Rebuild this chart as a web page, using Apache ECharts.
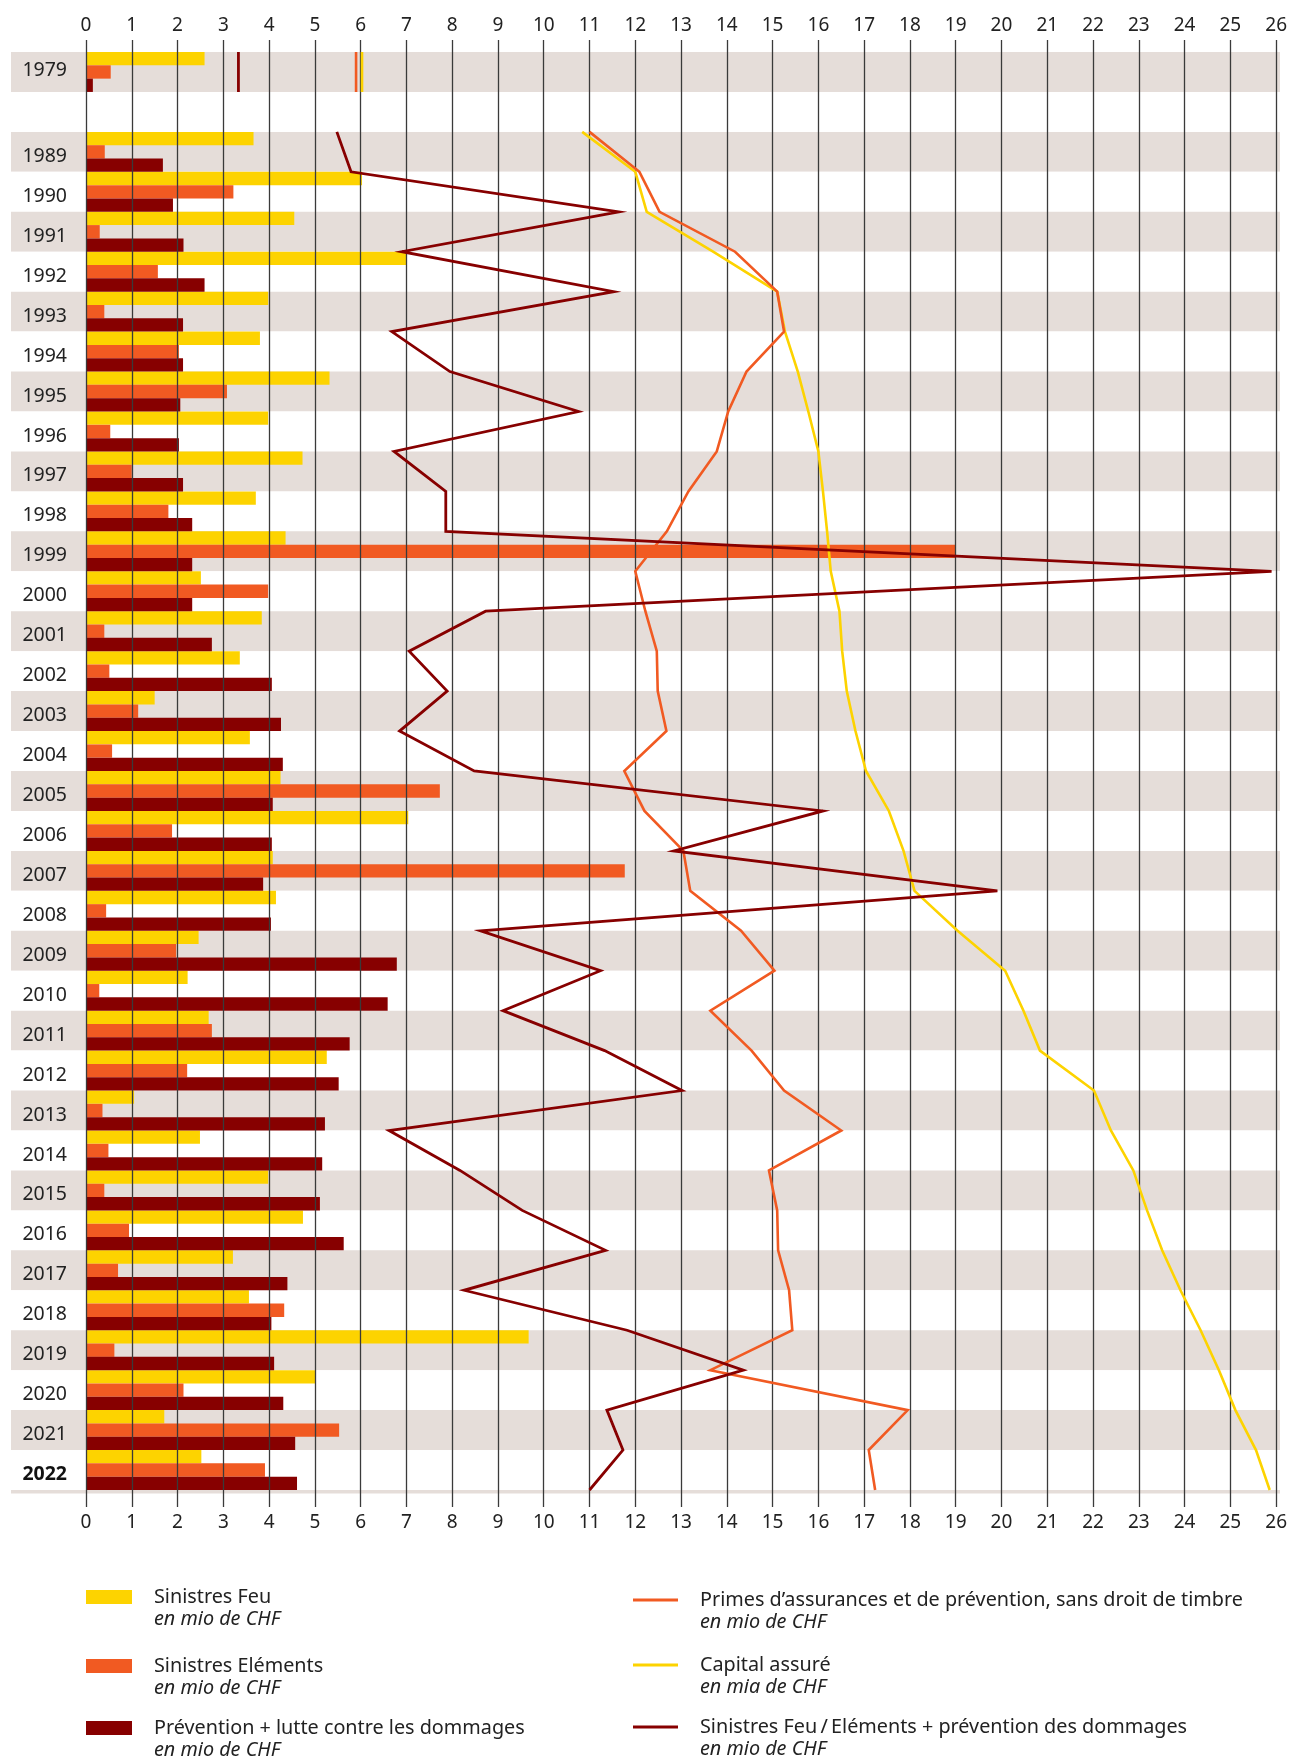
<!DOCTYPE html>
<html>
<head>
<meta charset="utf-8">
<script src="https://cdn.jsdelivr.net/npm/echarts@6/dist/echarts.min.js"></script>
<style>
html,body{margin:0;padding:0;background:#ffffff;}
#chart{width:1290px;height:1758px;}
</style>
</head>
<body>
<div id="chart"></div>
<script>
// ---------- DATA ----------
const categories = ['1979', '', '1989', '1990', '1991', '1992', '1993', '1994', '1995', '1996', '1997', '1998',
  '1999', '2000', '2001', '2002', '2003', '2004', '2005', '2006', '2007', '2008', '2009', '2010',
  '2011', '2012', '2013', '2014', '2015', '2016', '2017', '2018', '2019', '2020', '2021', '2022'];

// Bars (mio CHF), one value per category ('-' = empty row)
const sinistresFeu = [2.59, '-', 3.66, 6.03, 4.55, 7.00, 3.98, 3.80, 5.32, 3.98, 4.73, 3.71,
  4.36, 2.51, 3.84, 3.36, 1.50, 3.58, 4.25, 7.04, 4.08, 4.15, 2.46, 2.22,
  2.68, 5.26, 1.05, 2.49, 3.98, 4.74, 3.21, 3.56, 9.67, 5.02, 1.71, 2.52];
const sinistresElements = [0.54, '-', 0.41, 3.22, 0.30, 1.57, 0.40, 2.03, 3.08, 0.53, 1.00, 1.80,
  19.00, 3.98, 0.40, 0.51, 1.14, 0.57, 7.73, 1.88, 11.77, 0.44, 1.97, 0.29,
  2.75, 2.21, 0.36, 0.49, 0.40, 0.94, 0.70, 4.33, 0.62, 2.13, 5.53, 3.91];
const prevention = [0.15, '-', 1.68, 1.90, 2.13, 2.59, 2.12, 2.12, 2.06, 2.03, 2.12, 2.32,
  2.32, 2.32, 2.75, 4.06, 4.26, 4.30, 4.08, 4.06, 3.87, 4.04, 6.79, 6.59,
  5.76, 5.52, 5.22, 5.16, 5.11, 5.63, 4.40, 4.05, 4.11, 4.31, 4.57, 4.61];

// Lines: one value per year 1989-2022 (drawn at the lower edge of the year's row),
// plus a starting value at the upper edge of the 1989 row, and the 1979 value.
const lineYears = ['1989', '1990', '1991', '1992', '1993', '1994', '1995', '1996', '1997', '1998',
  '1999', '2000', '2001', '2002', '2003', '2004', '2005', '2006', '2007', '2008', '2009', '2010',
  '2011', '2012', '2013', '2014', '2015', '2016', '2017', '2018', '2019', '2020', '2021', '2022'];
const primesStart = 11.0;
const primes = [12.09, 12.53, 14.18, 15.10, 15.25, 14.43, 14.03, 13.78, 13.16, 12.69,
  12.00, 12.22, 12.47, 12.49, 12.68, 11.76, 12.20, 13.05, 13.20, 14.31, 15.04, 13.64,
  14.54, 15.25, 16.50, 14.92, 15.10, 15.12, 15.36, 15.43, 13.64, 17.95, 17.10, 17.24];
const capitalStart = 10.84;
const capital = [12.00, 12.25, 13.70, 15.10, 15.27, 15.55, 15.78, 16.00, 16.10, 16.19,
  16.27, 16.46, 16.52, 16.62, 16.81, 17.04, 17.54, 17.86, 18.10, 19.04, 20.08, 20.48,
  20.84, 22.02, 22.39, 22.88, 23.18, 23.51, 23.91, 24.35, 24.75, 25.11, 25.56, 25.86];
const totalStart = 5.48;
const totalSinistres = [5.79, 11.64, 6.90, 11.53, 6.68, 7.95, 10.76, 6.73, 7.86, 7.86,
  25.90, 8.73, 7.06, 7.89, 6.85, 8.48, 16.10, 12.84, 19.91, 8.62, 11.24, 9.11,
  11.33, 13.02, 6.62, 8.17, 9.53, 11.35, 8.26, 11.82, 14.36, 11.38, 11.73, 11.00];
const primes1979 = 5.90;
const capital1979 = 6.03;
const total1979 = 3.33;

const xTicks = {min: 0, max: 26, interval: 1};

// ---------- STYLE ----------
const FONT = '"Noto Sans", "DejaVu Sans", sans-serif';
const YELLOW = '#fdd300';
const ORANGE = '#f15a22';
const DARKRED = '#870000';
const SHADE = '#e5ddd9';
const GRIDC = '#3a3a3a';
const TEXTC = '#222222';
const LEGEND_FS = 19.8;

// ---------- helpers ----------
function rowIndex(y) { return categories.indexOf(y); }
function buildLine(startVal, vals) {
  const d = [[startVal, rowIndex(lineYears[0])]];
  lineYears.forEach(function (y, i) { d.push([vals[i], rowIndex(y) + 1]); });
  return d;
}
function build1979(v) {
  const k = rowIndex('1979');
  return [[v, k], [v, k + 1]];
}

const chart = echarts.init(document.getElementById('chart'), null, {renderer: 'canvas'});

const legendLeft = [
  {color: YELLOW, title: 'Sinistres Feu', unit: 'en mio de CHF', cy: 1597},
  {color: ORANGE, title: 'Sinistres Eléments', unit: 'en mio de CHF', cy: 1666},
  {color: DARKRED, title: 'Prévention + lutte contre les dommages', unit: 'en mio de CHF', cy: 1728}
];
const legendRight = [
  {color: ORANGE, title: 'Primes d’assurances et de prévention, sans droit de timbre', unit: 'en mio de CHF', cy: 1600},
  {color: YELLOW, title: 'Capital assuré', unit: 'en mia de CHF', cy: 1665},
  {color: DARKRED, title: 'Sinistres Feu\u2009/\u2009Eléments + prévention des dommages', unit: 'en mio de CHF', cy: 1727}
];
const graphicEls = [
  {type: 'rect', z: 1, shape: {x: 11, y: 1490, width: 1269, height: 3.5}, style: {fill: SHADE}}
];
function addText(x, y, text, italic) {
  graphicEls.push({
    type: 'text', x: x, y: y, z: 10,
    style: {
      text: text,
      font: (italic ? 'italic ' : '') + LEGEND_FS + 'px ' + FONT,
      fill: TEXTC,
      textVerticalAlign: 'middle', verticalAlign: 'middle',
      textAlign: 'left', align: 'left'
    }
  });
}
legendLeft.forEach(function (it) {
  graphicEls.push({type: 'rect', z: 10, shape: {x: 86, y: it.cy - 7, width: 46, height: 14}, style: {fill: it.color}});
  addText(154, it.cy, it.title, false);
  addText(154, it.cy + 22, it.unit, true);
});
legendRight.forEach(function (it) {
  graphicEls.push({type: 'line', z: 10, shape: {x1: 633, y1: it.cy, x2: 678, y2: it.cy}, style: {stroke: it.color, lineWidth: 3}});
  addText(700, it.cy, it.title, false);
  addText(700, it.cy + 22, it.unit, true);
});

const lineCommon = {
  type: 'line', xAxisIndex: 1, yAxisIndex: 2, symbol: 'none', showSymbol: false,
  silent: true, z: 4, animation: false
};

const option = {
  animation: false,
  backgroundColor: '#ffffff',
  textStyle: {fontFamily: FONT},
  grid: [
    {left: 11, top: 52, width: 1269, height: 1438, show: false},
    {left: 86, top: 52, width: 1194, height: 1438, show: false}
  ],
  xAxis: [
    {gridIndex: 0, type: 'value', min: 0, max: 1, show: false},
    {
      gridIndex: 1, type: 'value', position: 'top', min: xTicks.min, max: xTicks.max, interval: xTicks.interval, z: 3,
      axisLine: {show: false},
      axisTick: {show: true, inside: false, length: 12, lineStyle: {color: GRIDC, width: 1.3}},
      splitLine: {show: true, lineStyle: {color: GRIDC, width: 1.3}},
      axisLabel: {fontSize: 19, color: TEXTC, margin: 17, fontFamily: FONT}
    },
    {
      gridIndex: 1, type: 'value', position: 'bottom', min: xTicks.min, max: xTicks.max, interval: xTicks.interval, z: 3,
      axisLine: {show: false},
      axisTick: {show: true, inside: false, length: 17, lineStyle: {color: GRIDC, width: 1.3}},
      splitLine: {show: false},
      axisLabel: {fontSize: 19, color: TEXTC, margin: 23, fontFamily: FONT}
    }
  ],
  yAxis: [
    {
      gridIndex: 0, type: 'category', data: categories, inverse: true,
      axisLine: {show: false}, axisTick: {show: false}, axisLabel: {show: false}, splitLine: {show: false},
      splitArea: {show: true, areaStyle: {color: [SHADE, '#ffffff']}}
    },
    {
      gridIndex: 1, type: 'category', data: categories, inverse: true,
      axisLine: {show: false}, axisTick: {show: false}, splitLine: {show: false}, splitArea: {show: false},
      axisLabel: {
        interval: 0, fontSize: 19.5, color: TEXTC, margin: 19, fontFamily: FONT,
        padding: [9, 0, 0, 0],
        formatter: function (v) {
          if (v === '2022') return '{b|' + v + '}';
          if (v === '1979') return '{a|' + v + '}\n{s| }';
          return v;
        },
        rich: {
          b: {fontSize: 19.5, fontWeight: 'bold', color: '#111111', fontFamily: FONT},
          a: {fontSize: 19.5, color: TEXTC, fontFamily: FONT, lineHeight: 24},
          s: {fontSize: 2, lineHeight: 12}
        }
      }
    },
    {gridIndex: 1, type: 'value', min: 0, max: categories.length, inverse: true, show: false}
  ],
  series: [
    {name: 'Sinistres Feu', type: 'bar', xAxisIndex: 1, yAxisIndex: 1, data: sinistresFeu,
      barGap: '0%', barCategoryGap: '0%', itemStyle: {color: YELLOW}, z: 2, silent: true},
    {name: 'Sinistres Eléments', type: 'bar', xAxisIndex: 1, yAxisIndex: 1, data: sinistresElements,
      barGap: '0%', barCategoryGap: '0%', itemStyle: {color: ORANGE}, z: 2, silent: true},
    {name: 'Prévention + lutte contre les dommages', type: 'bar', xAxisIndex: 1, yAxisIndex: 1, data: prevention,
      barGap: '0%', barCategoryGap: '0%', itemStyle: {color: DARKRED}, z: 2, silent: true},
    Object.assign({}, lineCommon, {name: 'Capital assuré', data: buildLine(capitalStart, capital),
      lineStyle: {color: YELLOW, width: 2.6, join: 'miter'}}),
    Object.assign({}, lineCommon, {name: 'Primes d’assurances et de prévention', data: buildLine(primesStart, primes),
      lineStyle: {color: ORANGE, width: 2.6, join: 'miter'}}),
    Object.assign({}, lineCommon, {name: 'Sinistres Feu/Eléments + prévention', data: buildLine(totalStart, totalSinistres),
      lineStyle: {color: DARKRED, width: 2.8, join: 'miter'}}),
    Object.assign({}, lineCommon, {name: 'Capital assuré 1979', data: build1979(capital1979),
      lineStyle: {color: YELLOW, width: 2.6}}),
    Object.assign({}, lineCommon, {name: 'Primes 1979', data: build1979(primes1979),
      lineStyle: {color: ORANGE, width: 2.6}}),
    Object.assign({}, lineCommon, {name: 'Sinistres 1979', data: build1979(total1979),
      lineStyle: {color: DARKRED, width: 2.8}})
  ],
  graphic: {elements: graphicEls}
};
chart.setOption(option);
</script>
</body>
</html>
